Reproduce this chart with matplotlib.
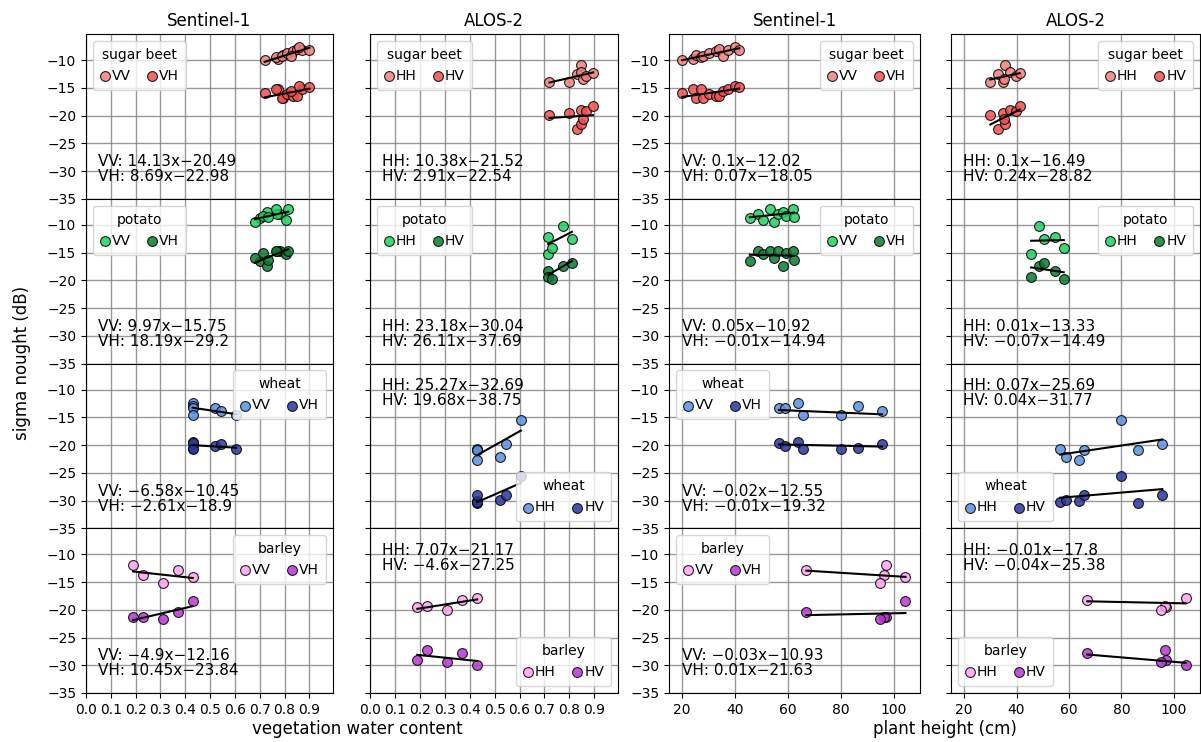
import numpy as np
import matplotlib
matplotlib.use('Agg')
import matplotlib.pyplot as plt
from matplotlib.transforms import blended_transform_factory

crops = ['sugar beet', 'potato', 'wheat', 'barley']

# --- Sentinel-1 acquisitions (VV / VH) ---
vwc_sugar_s1 = [0.72, 0.775, 0.795, 0.765, 0.79, 0.81, 0.835, 0.85, 0.825, 0.87, 0.86, 0.90]
height_sugar_s1 = [20, 24, 25.4, 27, 28, 30.3, 32.6, 34, 35.5, 37.5, 40, 41.5]
vv_sugar = [-10.0, -9.8, -9.0, -9.4, -9.3, -8.8, -8.4, -8.0, -9.3, -8.2, -7.7, -8.2]
vh_sugar = [-15.9, -15.3, -16.9, -15.2, -16.9, -16.1, -16.5, -16.4, -15.5, -15.3, -14.6, -14.9]

vwc_potato_s1 = [0.70, 0.78, 0.805, 0.815, 0.68, 0.77, 0.73, 0.715, 0.765, 0.735]
height_potato_s1 = [45.6, 48.7, 50.4, 53.2, 54.7, 56.3, 58, 59.2, 62, 62.3]
vv_potato = [-8.7, -8.0, -9.2, -7.2, -9.45, -8.1, -7.6, -8.4, -7.2, -8.6]
vh_potato = [-16.5, -14.7, -15.3, -14.8, -15.9, -14.8, -17.5, -15.1, -14.7, -16.3]

vwc_wheat = [0.43, 0.43, 0.43, 0.43, 0.52, 0.545, 0.605]
height_wheat = [63.7, 86.5, 56.6, 65.8, 58.9, 95.6, 80]
vv_wheat = [-12.4, -13.0, -13.25, -14.5, -13.4, -13.9, -14.6]
vh_wheat = [-19.5, -20.5, -19.6, -20.8, -20.2, -19.9, -20.8]

vwc_barley = [0.19, 0.23, 0.31, 0.37, 0.43]
height_barley = [97, 96.5, 95, 67, 104.5]
vv_barley = [-12.0, -13.8, -15.1, -12.8, -14.1]
vh_barley = [-21.3, -21.3, -21.7, -20.4, -18.5]

# --- ALOS-2 acquisitions (HH / HV) ---
vwc_sugar_al = [0.72, 0.80, 0.83, 0.845, 0.845, 0.855, 0.865, 0.895]
height_sugar_al = [30, 34.8, 32.9, 35.7, 37.5, 35.2, 39.8, 41.2]
hh_sugar = [-13.9, -14.0, -12.6, -10.8, -12.1, -13.5, -12.9, -12.3]
hv_sugar = [-19.9, -19.6, -22.4, -21.6, -19.0, -20.7, -19.1, -18.3]

vwc_potato_al = [0.715, 0.715, 0.73, 0.775, 0.81]
height_potato_al = [54.7, 45.6, 58, 48.5, 50.4]
hh_potato = [-12.2, -15.2, -14.1, -10.2, -12.6]
hv_potato = [-18.4, -19.4, -19.7, -17.4, -16.9]

hh_wheat = [-22.7, -20.9, -20.8, -20.9, -22.1, -19.8, -15.5]
hv_wheat = [-30.1, -30.5, -30.3, -29.0, -29.9, -29.0, -25.5]

hh_barley = [-19.5, -19.4, -20.1, -18.3, -17.8]
hv_barley = [-29.1, -27.2, -29.4, -27.8, -30.0]

# regression coefficients (slope, intercept) as printed in each panel
fit_s1_vwc = [[(14.13, -20.49), (8.69, -22.98)], [(9.97, -15.75), (18.19, -29.2)],
              [(-6.58, -10.45), (-2.61, -18.9)], [(-4.9, -12.16), (10.45, -23.84)]]
fit_al_vwc = [[(10.38, -21.52), (2.91, -22.54)], [(23.18, -30.04), (26.11, -37.69)],
              [(25.27, -32.69), (19.68, -38.75)], [(7.07, -21.17), (-4.6, -27.25)]]
fit_s1_height = [[(0.1, -12.02), (0.07, -18.05)], [(0.05, -10.92), (-0.01, -14.94)],
                 [(-0.02, -12.55), (-0.01, -19.32)], [(-0.03, -10.93), (0.01, -21.63)]]
fit_al_height = [[(0.1, -16.49), (0.24, -28.82)], [(0.01, -13.33), (-0.07, -14.49)],
                 [(0.07, -25.69), (0.04, -31.77)], [(-0.01, -17.8), (-0.04, -25.38)]]

s1_data = [(vwc_sugar_s1, height_sugar_s1, vv_sugar, vh_sugar),
           (vwc_potato_s1, height_potato_s1, vv_potato, vh_potato),
           (vwc_wheat, height_wheat, vv_wheat, vh_wheat),
           (vwc_barley, height_barley, vv_barley, vh_barley)]
al_data = [(vwc_sugar_al, height_sugar_al, hh_sugar, hv_sugar),
           (vwc_potato_al, height_potato_al, hh_potato, hv_potato),
           (vwc_wheat, height_wheat, hh_wheat, hv_wheat),
           (vwc_barley, height_barley, hh_barley, hv_barley)]

colores = [('#f08080', '#f04f4f'), ('#1fd060', '#0b7a35'),
           ('#5a8fe0', '#2b369c'), ('#ffa3ec', '#b637d0')]

leg_loc = [['upper left', 'upper left', 'upper right', 'upper right'],
           ['upper left', 'upper left', 'upper right', 'upper right'],
           ['upper right', 'lower right', 'upper left', 'lower left'],
           ['upper right', 'lower right', 'upper left', 'lower left']]
txt_alto = [[False] * 4, [False] * 4, [False, True, False, True], [False, True, False, True]]


def fmt(v):
    return str(v).replace('-', '\u2212')


def ecuacion(pol, a, b):
    signo = '\u2212' if b < 0 else '+'
    return f"{pol}: {fmt(a)}x{signo}{fmt(abs(b))}"


W, H = 1201, 742
fig = plt.figure(figsize=(W / 100, H / 100), dpi=100)

lefts = [86, 370, 669, 951]
widths = [247, 248, 251, 249]
top, bottom = 34, 693
row_h = (bottom - top) / 4

for r in range(4):
    for c in range(4):
        y0 = top + (r + 1) * row_h
        ax = fig.add_axes([lefts[c] / W, 1 - y0 / H, widths[c] / W, row_h / H])
        es_s1 = c in (0, 2)
        usa_vwc = c in (0, 1)
        datos = s1_data[r] if es_s1 else al_data[r]
        pols = ('VV', 'VH') if es_s1 else ('HH', 'HV')
        if usa_vwc:
            x = np.array(datos[0])
            fits = fit_s1_vwc[r] if es_s1 else fit_al_vwc[r]
        else:
            x = np.array(datos[1])
            fits = fit_s1_height[r] if es_s1 else fit_al_height[r]

        for k in range(2):
            y = np.array(datos[2 + k])
            ax.scatter(x, y, s=50, color=colores[r][k], edgecolor='black', linewidth=0.8,
                       alpha=0.85, zorder=3, label=pols[k])
            a, b = fits[k]
            xs = np.array([x.min(), x.max()])
            ax.plot(xs, a * xs + b, color='black', lw=1.5, zorder=4)

        ax.set_ylim(-35, -5.3)
        ax.set_yticks([-35, -30, -25, -20, -15, -10])
        if usa_vwc:
            ax.set_xlim(0, 0.995)
            ax.set_xticks(np.round(np.arange(0, 1.0, 0.1), 1))
            ax.set_xticklabels([f"{t:.1f}" for t in np.arange(0, 1.0, 0.1)])
        else:
            ax.set_xlim(15, 110)
            ax.set_xticks([20, 40, 60, 80, 100])
        ax.grid(True, color='#808080', lw=1.0, alpha=0.8)
        ax.set_axisbelow(True)
        ax.tick_params(labelsize=10)
        if not es_s1:
            ax.tick_params(labelleft=False)
        if r < 3:
            ax.tick_params(labelbottom=False, bottom=False)

        leg = ax.legend(loc=leg_loc[r][c], title=crops[r], ncol=2, fontsize=10,
                        title_fontsize=10, handlelength=0.7, handletextpad=0.15,
                        columnspacing=1.2, scatterpoints=1, borderpad=0.5)
        leg.set_zorder(5)

        trans = blended_transform_factory(ax.transAxes, ax.transData)
        texto = ecuacion(pols[0], *fits[0]) + '\n' + ecuacion(pols[1], *fits[1])
        ty = -10.6 if txt_alto[r][c] else -29.65
        ax.text(0.05, ty, texto, transform=trans, fontsize=11, va='center', ha='left',
                linespacing=1.0, zorder=6)

        if r == 0:
            ax.set_title('Sentinel-1' if es_s1 else 'ALOS-2', fontsize=12, pad=6)

fig.text(22 / W, 1 - 363 / H, 'sigma nought (dB)', rotation=90, va='center', ha='center', fontsize=12)
fig.text(357 / W, 1 - 729 / H, 'vegetation water content', va='center', ha='center', fontsize=12)
fig.text(945 / W, 1 - 729 / H, 'plant height (cm)', va='center', ha='center', fontsize=12)

fig.savefig('out.png', dpi=100)
